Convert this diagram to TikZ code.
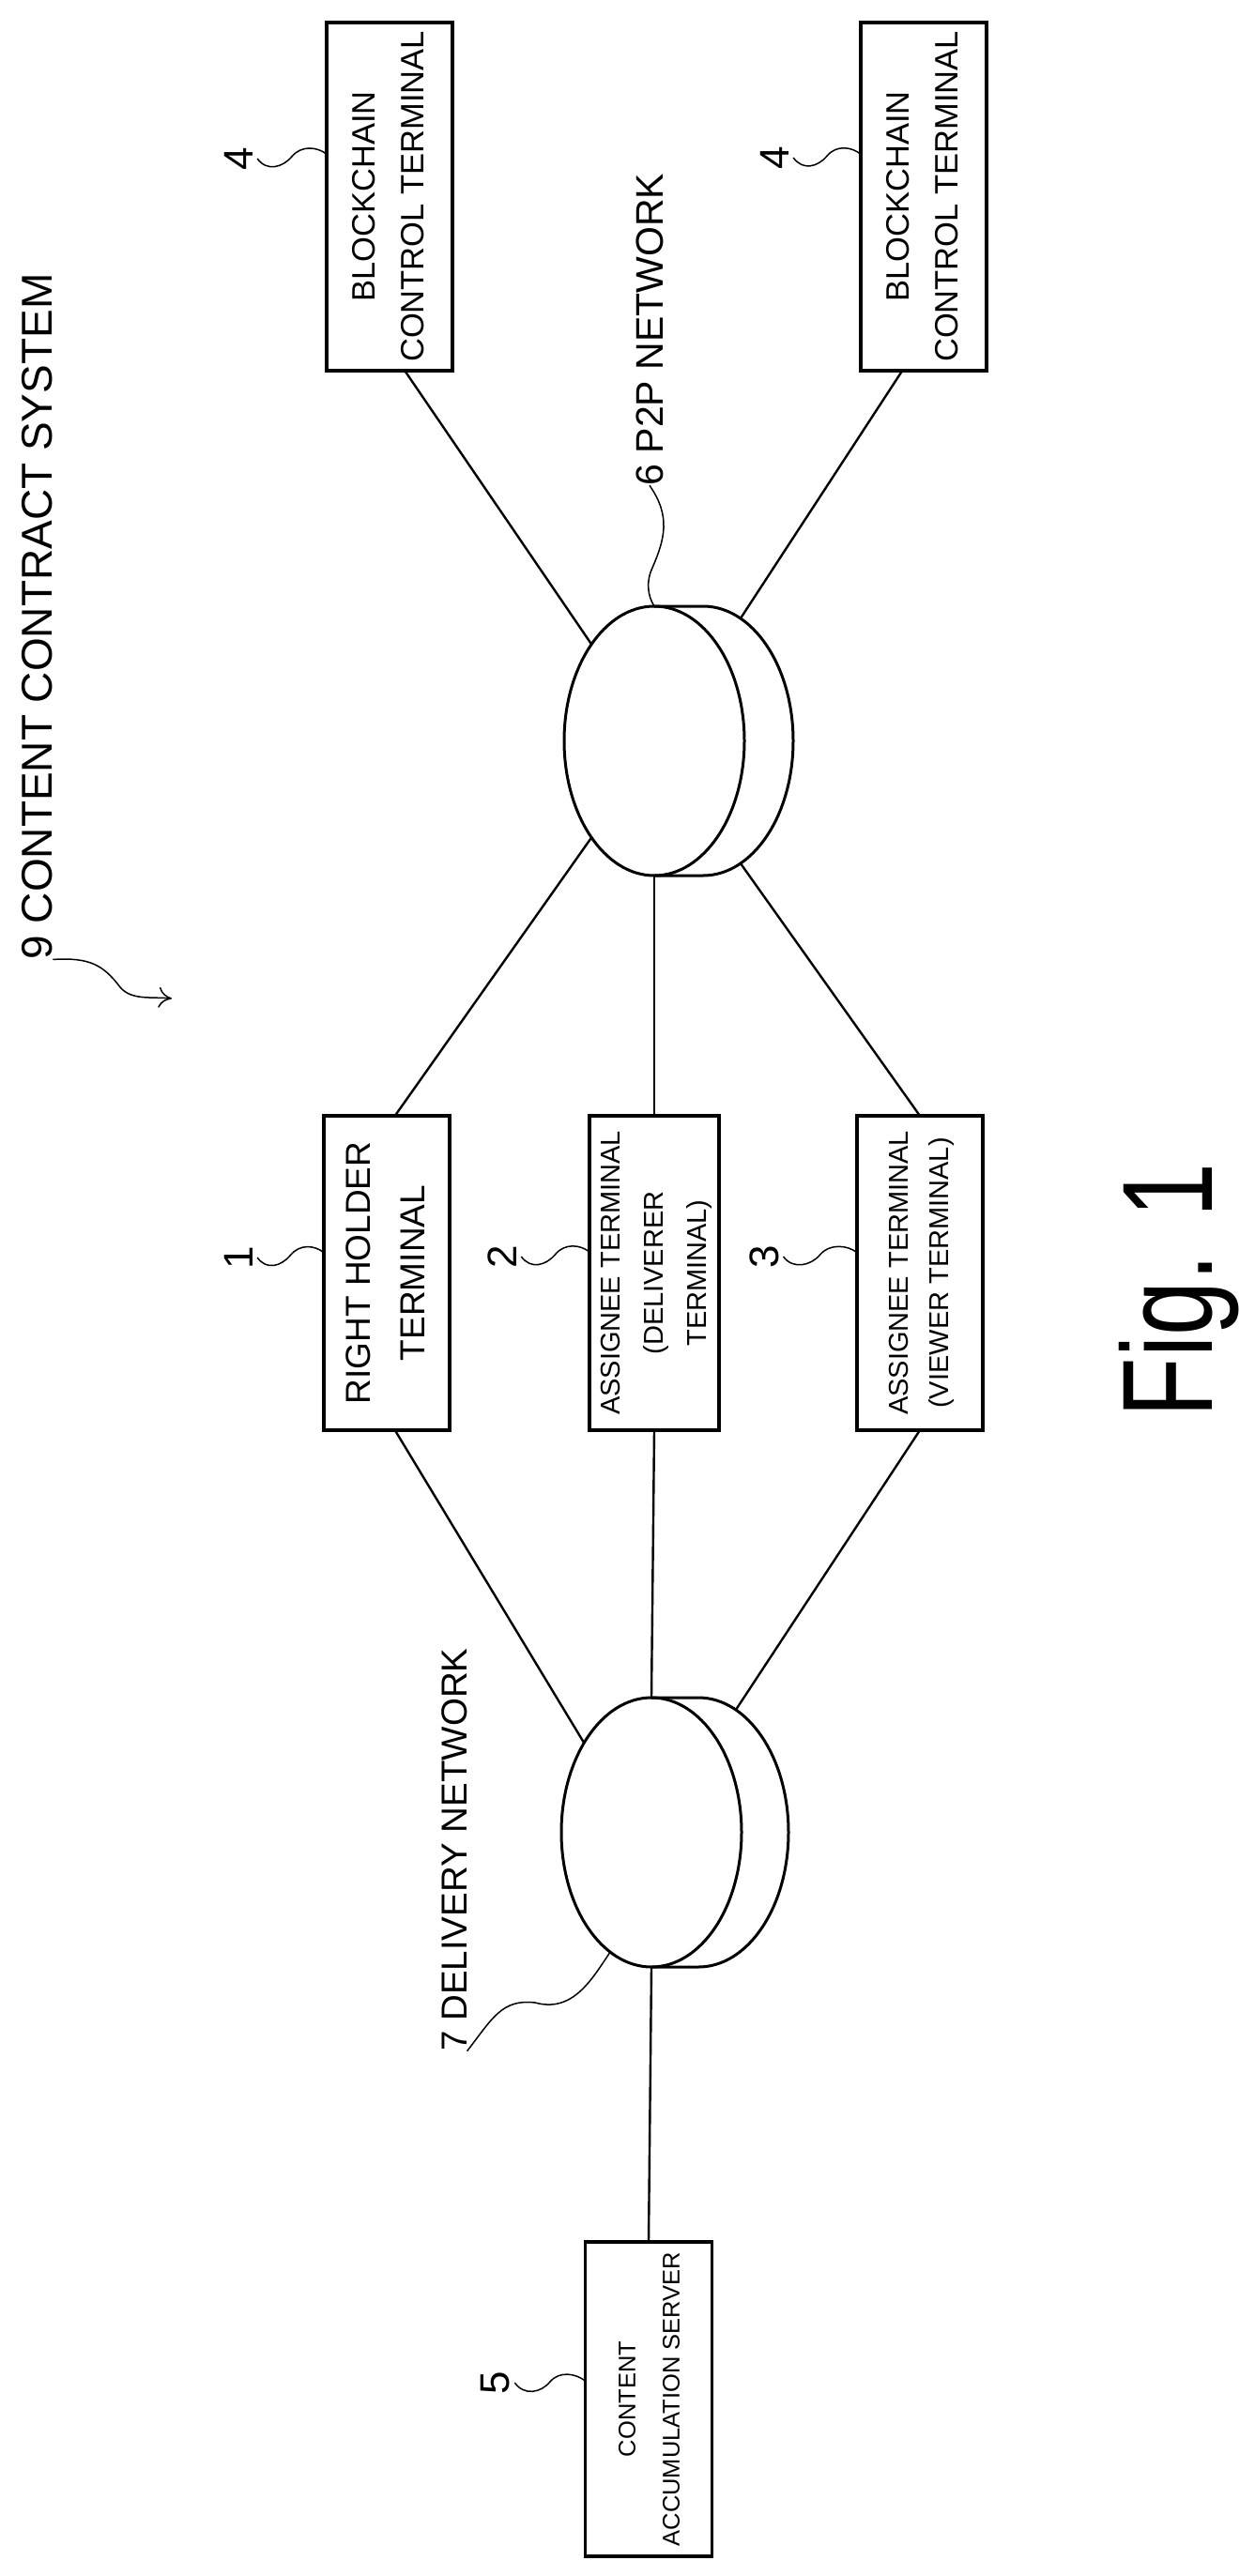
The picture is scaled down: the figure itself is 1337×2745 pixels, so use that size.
\documentclass[tikz,border=0pt]{standalone}
\usepackage{fontspec}
\setmainfont{Liberation Sans}
\usetikzlibrary{positioning,calc,shapes.geometric,arrows.meta}

\newcommand{\sidetext}[1]{\rotatebox{90}{\begin{tabular}{@{}c@{}}#1\end{tabular}}}
\newcommand{\txtsize}[2]{\fontsize{#1}{#2}\selectfont}

\begin{document}
\begin{tikzpicture}[x=1pt,y=-1pt,
	termbox/.style={rectangle,draw,line width=3.2pt,inner sep=0pt,outer sep=0pt,minimum width=134pt},
	netdisc/.style={ellipse,draw,line width=3pt,inner sep=0pt,outer sep=0pt,minimum width=192pt,minimum height=287pt},
	netback/.style={netdisc,draw=none},
	link/.style={line width=2.4pt},
	leader/.style={line width=1.5pt},
	refnum/.style={inner sep=0pt,outer sep=5pt,font=\txtsize{44}{44}},
	sidename/.style={inner sep=0pt,outer sep=0pt}]
		\useasboundingbox (0,0) rectangle (1337,2745);

		\node[termbox,minimum height=335pt,font=\txtsize{37}{58}] (holder) at (412,1356.5) {\sidetext{RIGHT HOLDER\\TERMINAL}};
		\node[termbox,minimum height=335pt,font=\txtsize{29}{46}] (assignB) [right=149pt of holder] {\sidetext{ASSIGNEE TERMINAL\\(DELIVERER\\TERMINAL)}};
		\node[termbox,minimum height=335pt,font=\txtsize{29}{43}] (assignC) [right=147pt of assignB] {\sidetext{ASSIGNEE TERMINAL\\(VIEWER TERMINAL)}};
		\node[termbox,minimum height=371pt,font=\txtsize{34.5}{52}] (blockA) [above=794pt of holder,xshift=3pt] {\sidetext{BLOCKCHAIN\\CONTROL TERMINAL}};
		\node[termbox,minimum height=371pt,font=\txtsize{34.5}{52}] (blockB) [right=435pt of blockA] {\sidetext{BLOCKCHAIN\\CONTROL TERMINAL}};

		\node[netdisc] (p2p) [above=256pt of assignB] {};
		\node[netback] (p2pback) at ($(p2p)+(52,0)$) {};
		\node[netdisc] (delnet) [below=285pt of assignB,xshift=-3pt] {};
		\node[netback] (delback) at ($(delnet)+(50,0)$) {};
		\node[termbox,minimum height=335pt,minimum width=135pt,font=\txtsize{25.5}{47}] (content) [below=293pt of delnet,xshift=-3pt] {\sidetext{CONTENT\\ACCUMULATION SERVER}};

		\draw[line width=3pt] (p2p.north) -- (p2pback.north) arc[start angle=90,end angle=-90,x radius=96pt,y radius=143.5pt] -- (p2p.south);
		\draw[line width=3pt] (delnet.north) -- (delback.north) arc[start angle=90,end angle=-90,x radius=96pt,y radius=143.5pt] -- (delnet.south);

		\draw[link] (blockA.-85) -- (p2p.123.6);
		\draw[link] (blockB.-97.6) -- (p2pback.73);
		\draw[link] (p2p.-123.4) -- (holder.87.9);
		\draw[link] (p2p.south) -- (assignB.north);
		\draw[link] (p2pback.-73) -- (assignC.north);
		\draw[link] (holder.-87.9) -- (delnet.127.2);
		\draw[link] (assignB.south) -- (delnet.north);
		\draw[link] (assignC.south) -- (delback.73);
		\draw[link] (delnet.south) -- (content.north);

		\node[refnum] (numA) at (254,169) {\rotatebox{90}{4}};
		\node[refnum] (numB) at (825,168) {\rotatebox{90}{4}};
		\node[refnum] (numC) at (254,1340) {\rotatebox{90}{1}};
		\node[refnum] (numD) at (535,1339) {\rotatebox{90}{2}};
		\node[refnum] (numE) at (814,1339) {\rotatebox{90}{3}};
		\node[refnum] (numF) at (528,2539) {\rotatebox{90}{5}};

		\foreach \num/\target/\ang in {numA/blockA/146.7,numB/blockB/146.7,numC/holder/162,numD/assignB/162,numE/assignC/162,numF/content/164}
			\draw[leader] (\num.east) .. controls +(10,14) and +(-10,12) .. ($(\num.east)!0.5!(\target.\ang)$) .. controls +(10,-12) and +(-10,-8) .. (\target.\ang);

		\node[sidename,font=\txtsize{46}{46}] (sysname) at (40,657) {\rotatebox{90}{9 CONTENT CONTRACT SYSTEM}};
		\node[sidename,font=\txtsize{41}{41}] (p2pname) at (692,351) {\rotatebox{90}{6 P2P NETWORK}};
		\node[sidename,font=\txtsize{38.5}{38.5}] (delname) at (484,1971) {\rotatebox{90}{7 DELIVERY NETWORK}};
		\node[sidename,font=\txtsize{137}{137}] (figname) at (1256,1375) {\rotatebox{90}{\scalebox{.76}[1]{Fig. 1}}};

		\coordinate (sysend) at (183,1064);
		\draw[leader,-{To[length=14pt,width=22pt]}] (sysname.south east) .. controls (95,1020) and (110,1028) .. (128,1052) .. controls (140,1066) and (160,1062) .. (sysend);
		\draw[leader] (p2pname.south) .. controls (715,550) and (708,575) .. (695,605) .. controls (688,620) and (690,635) .. (p2p.north);
		\draw[leader] (delname.south east) .. controls (525,2150) and (535,2130) .. (570,2134) .. controls (610,2145) and (630,2110) .. (delnet.-109);
	\end{tikzpicture}
\end{document}
